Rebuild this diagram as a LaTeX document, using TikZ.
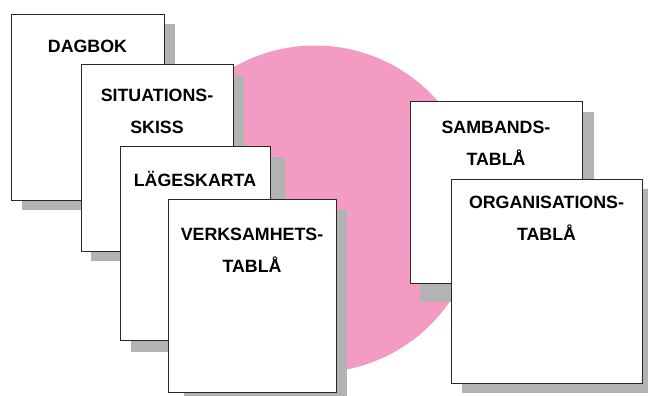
\documentclass[tikz,border=0pt]{standalone}
\usepackage{fontspec}
\setmainfont{Liberation Sans}[BoldFont={Liberation Sans Bold}]
\definecolor{pinkdisc}{RGB}{243,155,194}
\definecolor{shadowgray}{RGB}{179,179,179}
\definecolor{framegray}{RGB}{40,40,40}
\begin{document}
\begin{tikzpicture}[x=1pt,y=-1pt,
  sheet/.style={draw=framegray,line width=0.9pt,fill=white,anchor=north west,inner sep=0pt,outer sep=0pt},
  shade/.style={fill=shadowgray},
  lbl/.style={anchor=base,inner sep=0pt,font=\fontsize{17.8}{20}\selectfont\bfseries,text=black}]
\useasboundingbox (0,0) rectangle (648,396);
\clip (0,0) rectangle (648,396);
% background disc
\fill[pinkdisc] (315,209) circle[radius=163.5];
% DAGBOK
\fill[shade] (22,24) rectangle (175,210);
\node[sheet,minimum width=153pt,minimum height=186pt] (dagbok) at (11,14) {};
\node[lbl] (tdagbok) at (87.5,53) {DAGBOK};
% SITUATIONSSKISS
\fill[shade] (91,75) rectangle (244,261);
\node[sheet,minimum width=152pt,minimum height=187pt] (situ) at (81,64) {};
\node[lbl] (tsitu1) at (157,102) {SITUATIONS-};
\node[lbl] (tsitu2) at (157,133) {SKISS};
% LAGESKARTA
\fill[shade] (131,157) rectangle (285,352);
\node[sheet,minimum width=150pt,minimum height=194pt] (lage) at (120,146) {};
\node[lbl] (tlage) at (195,186) {LÄGESKARTA};
% VERKSAMHETSTABLA
\fill[shade] (184,210) rectangle (347,400);
\node[sheet,minimum width=168pt,minimum height=193pt] (verk) at (168,199) {};
\node[lbl] (tverk1) at (252,240) {VERKSAMHETS-};
\node[lbl] (tverk2) at (252,272) {TABLÅ};
% SAMBANDSTABLA
\fill[shade] (420,112) rectangle (594,302);
\node[sheet,minimum width=172pt,minimum height=182pt] (samb) at (410,101) {};
\node[lbl] (tsamb1) at (496,133) {SAMBANDS-};
\node[lbl] (tsamb2) at (496,165) {TABLÅ};
% ORGANISATIONSTABLA
\fill[shade] (462,189) rectangle (650,393);
\node[sheet,minimum width=191pt,minimum height=204pt] (org) at (451,179) {};
\node[lbl] (torg1) at (546.5,208) {ORGANISATIONS-};
\node[lbl] (torg2) at (546.5,240) {TABLÅ};
\end{tikzpicture}
\end{document}
